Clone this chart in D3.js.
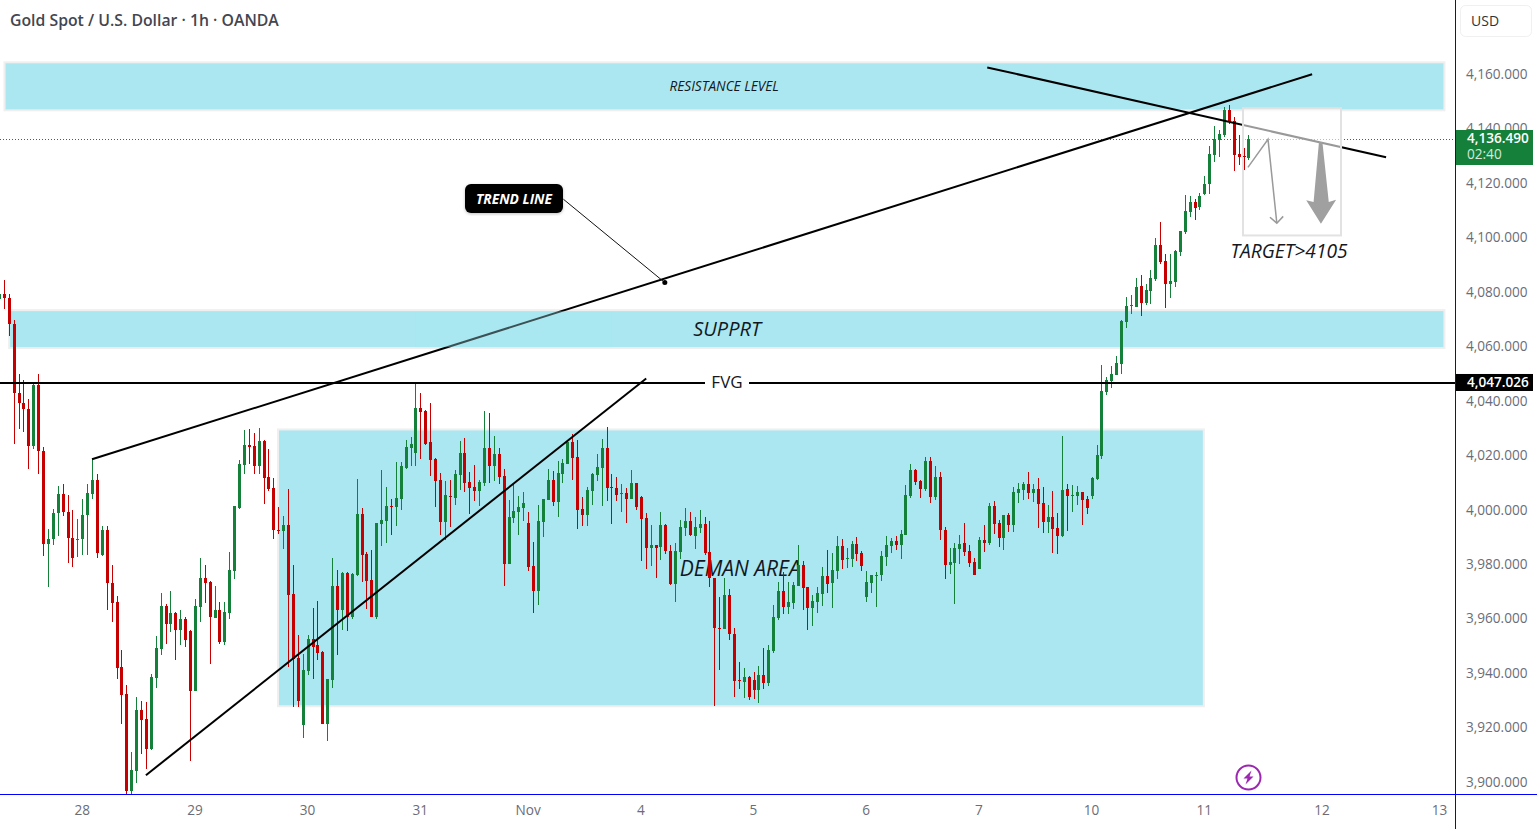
<!DOCTYPE html>
<html>
<head>
<meta charset="utf-8">
<script src="https://cdn.jsdelivr.net/npm/d3@7"></script>
<style>
  html, body { margin: 0; padding: 0; background: #fff; overflow: hidden; }
  svg { display: block; }
  text { font-family: "Open Sans", "Noto Sans", sans-serif; }
</style>
</head>
<body>
<svg id="chart" width="1537" height="829"></svg>
<script>
// XAU/USD hourly candles
const opens = [
4077.8,4079.8,4078.4,4068.8,4043.5,4039.8,4037.6,4023.9,4046.2,4022.2,
3988.0,3989.7,3999.4,4006.4,3999.8,3990.2,3989.8,3989.7,3998.6,4006.3,
4011.3,3983.7,3993.2,3973.7,3966.5,3942.6,3932.7,3897.1,3904.5,3926.8,
3923.5,3912.5,3938.7,3949.2,3965.0,3958.4,3962.4,3956.2,3960.2,3955.8,
3933.8,3964.6,3975.3,3973.8,3960.9,3963.5,3951.8,3962.4,3977.9,4001.3,
4016.8,4024.1,4023.8,4016.4,4025.6,4012.4,4008.4,3993.1,3992.6,3994.8,
3969.4,3945.9,3921.3,3941.2,3952.9,3950.7,3948.1,3921.7,3937.8,3972.4,
3963.5,3977.1,3961.0,3976.4,3998.8,3984.1,3974.6,3961.0,3995.1,3996.2,
4001.7,4001.4,4004.3,4015.7,4023.0,4021.2,4037.7,4036.6,4025.2,4019.0,
4011.3,3995.9,4005.4,4004.7,4013.1,4021.2,4010.5,4008.7,4007.2,4010.2,
4023.0,4016.4,4020.8,4012.7,3980.4,3997.3,3999.5,4001.0,3995.5,3979.7,
3970.5,3995.9,4003.9,4011.3,4003.2,4013.5,4017.2,4025.2,4019.7,4000.6,
3998.4,4007.2,4013.1,4015.7,4023.0,4008.7,4008.3,4006.1,4006.5,4004.3,
4010.2,4005.0,3997.3,3986.3,3987.4,3986.7,3994.7,3985.2,3973.1,3984.8,
3993.6,3996.2,3990.7,3993.6,3995.1,3984.8,3975.6,3956.9,3956.6,3969.0,
3954.7,3937.8,3937.1,3938.9,3937.8,3934.2,3939.7,3936.7,3948.5,3960.6,
3970.5,3964.6,3966.1,3972.3,3980.1,3972.0,3964.3,3966.5,3969.4,3976.0,
3973.4,3977.9,3987.0,3982.3,3982.3,3987.8,3984.5,3968.3,3973.4,3976.0,
3976.4,3983.0,3987.0,3988.9,3987.4,3991.1,4005.4,4014.9,4010.9,4008.0,
4018.2,4005.0,4012.4,3992.9,3980.1,3980.8,3985.9,3988.1,3985.2,3981.2,
3978.9,3989.2,3988.1,4001.7,3995.5,3990.0,3998.4,3994.7,4006.5,4007.6,
4009.8,4006.5,4008.0,4002.8,3995.8,3998.0,3993.6,3990.7,4008.0,4005.4,
4005.4,4006.9,4004.3,4005.4,4011.6,4020.1,4043.7,4047.6,4049.8,4053.9,
4069.3,4075.2,4074.8,4082.5,4076.3,4080.7,4085.1,4097.6,4091.7,4083.3,
4084.0,4095.0,4102.4,4109.7,4113.4,4111.5,4116.3,4120.0,4130.6,4136.1,
4138.0,4147.2,4143.1,4131.0,4130.3,4129.5];
const highs = [
4079.8,4085.0,4079.8,4070.3,4050.5,4048.0,4041.3,4046.5,4050.5,4023.5,
3993.5,4000.6,4009.1,4010.1,4005.8,4000.3,3997.0,4004.6,4009.8,4019.6,
4013.7,3994.6,3994.4,3980.1,3968.7,3948.9,3936.0,3911.4,3931.6,3930.1,
3929.8,3940.3,3954.0,3969.8,3965.7,3970.5,3962.8,3963.5,3961.0,3956.2,
3967.8,3982.6,3980.1,3974.2,3972.4,3966.5,3966.5,3984.8,4001.9,4018.6,
4029.6,4030.0,4028.5,4030.4,4026.0,4022.7,4012.0,4001.4,3998.1,4008.0,
3980.1,3954.4,3947.4,3954.4,3964.3,3966.9,3948.5,3938.2,3982.6,3978.2,
3977.5,3977.5,3977.1,4011.6,4001.0,3985.1,3985.6,3995.5,4015.0,4008.7,
4004.3,4017.9,4017.9,4026.0,4027.1,4046.5,4043.2,4037.0,4039.6,4019.4,
4013.9,4010.9,4011.3,4015.0,4025.6,4026.7,4014.2,4016.8,4011.3,4036.6,
4035.9,4027.4,4023.0,4015.3,4003.9,4009.8,4005.4,4006.9,3999.5,3988.5,
4002.1,4004.3,4015.3,4014.6,4018.3,4019.0,4026.0,4028.2,4026.0,4005.0,
4008.7,4013.8,4020.8,4026.3,4030.7,4013.5,4012.4,4009.8,4008.3,4014.9,
4010.2,4005.4,3999.2,3994.7,3987.4,3999.5,3995.1,3987.4,3988.1,3996.6,
4001.0,3999.5,3997.7,4000.3,3997.7,3996.2,3975.6,3968.3,3975.6,3971.2,
3956.9,3944.4,3942.2,3939.3,3940.8,3943.0,3949.6,3951.0,3965.4,3973.8,
3977.5,3973.8,3973.8,3987.4,3981.5,3972.0,3969.0,3972.0,3979.3,3985.6,
3984.5,3990.7,3989.6,3986.3,3988.9,3990.3,3985.2,3977.9,3976.4,3977.5,
3985.2,3990.7,3990.0,3990.7,3992.9,4009.4,4017.1,4015.3,4011.3,4019.7,
4019.7,4016.4,4014.2,3994.0,3986.3,3988.1,3991.1,3995.5,3987.4,3982.6,
3990.3,3994.7,4002.8,4003.6,3996.6,3998.4,3999.2,4008.7,4010.2,4010.5,
4014.2,4009.8,4012.0,4008.7,4002.1,4007.2,3999.2,4027.4,4009.8,4009.4,
4009.1,4006.9,4005.4,4012.4,4024.1,4053.5,4049.1,4053.2,4056.8,4070.0,
4078.5,4079.2,4085.5,4086.6,4083.3,4088.4,4100.1,4106.0,4094.3,4094.3,
4095.7,4102.7,4115.9,4115.6,4114.5,4116.7,4122.9,4133.9,4141.3,4139.8,
4148.3,4149.0,4144.6,4138.0,4133.2,4138.0];
const lows = [
4068.8,4074.3,4064.3,4024.8,4030.1,4029.0,4015.4,4022.9,4013.7,3983.4,
3972.0,3987.4,3990.8,3998.2,3980.8,3979.3,3983.0,3984.0,3984.0,4004.4,
3982.6,3983.5,3963.6,3959.3,3938.2,3921.7,3896.0,3896.0,3900.2,3910.9,
3905.4,3912.2,3934.9,3947.0,3951.1,3955.5,3945.2,3950.7,3949.9,3908.1,
3933.8,3959.1,3966.1,3943.7,3960.8,3951.1,3950.7,3960.3,3974.9,4000.8,
4013.5,4017.2,4013.5,4013.5,4002.5,4007.2,3989.6,3991.5,3985.9,3942.6,
3928.0,3928.0,3916.5,3939.7,3938.2,3945.2,3921.7,3915.4,3934.9,3947.0,
3956.2,3955.8,3960.3,3976.0,3973.8,3963.9,3961.0,3960.2,3987.0,3988.1,
3991.1,3994.4,4000.3,4015.3,4016.4,4016.4,4019.0,4024.1,4012.7,4001.4,
3991.1,3989.2,3994.0,4002.1,4007.6,4006.9,3998.8,4003.6,4001.7,4009.1,
4010.2,4010.9,4009.8,3972.4,3980.4,3995.5,3991.1,3996.2,3977.9,3962.4,
3965.4,3990.4,4003.9,4001.7,3997.7,4010.2,4017.2,4011.3,3993.3,3994.4,
3994.4,4002.1,4010.9,4001.7,4003.6,3995.1,4003.6,3999.5,3995.5,4004.3,
4000.3,3981.5,3978.6,3979.7,3975.6,3981.9,3984.1,3972.7,3966.5,3982.3,
3990.7,3990.7,3985.9,3991.8,3983.7,3972.0,3928.6,3941.5,3956.6,3952.5,
3931.9,3934.5,3931.2,3930.5,3930.9,3929.4,3934.5,3935.6,3947.7,3959.9,
3962.1,3962.1,3963.9,3972.3,3963.5,3956.2,3957.7,3962.4,3965.0,3969.8,
3964.3,3974.9,3978.6,3979.0,3979.3,3981.5,3977.9,3966.5,3969.8,3964.6,
3974.5,3979.7,3984.5,3985.6,3982.3,3991.1,4004.7,4009.4,4004.7,4007.2,
4002.8,4003.9,3989.2,3974.9,3976.8,3965.7,3980.4,3983.4,3979.3,3976.7,
3978.6,3984.8,3987.4,3991.4,3986.7,3985.6,3992.2,3992.2,4002.8,4003.9,
4004.3,4003.2,3993.6,3991.8,3991.8,3984.5,3984.1,3990.3,3992.5,3999.5,
4002.1,3994.7,3998.8,4004.3,4011.3,4019.0,4042.5,4045.2,4049.8,4050.2,
4067.1,4072.2,4074.8,4071.5,4075.8,4075.9,4084.4,4090.6,4074.4,4078.1,
4082.2,4093.5,4101.6,4107.9,4106.8,4110.4,4115.9,4116.3,4128.1,4129.9,
4137.2,4142.0,4124.8,4127.0,4125.1,4128.8];
const closes = [
4079.8,4078.2,4068.8,4043.4,4039.7,4037.5,4023.9,4046.2,4022.1,3988.0,
3989.9,3999.4,4006.4,3999.7,3990.1,3982.6,3989.9,3998.7,4006.8,4011.3,
3984.5,3992.9,3973.6,3966.2,3942.4,3932.5,3897.1,3904.8,3926.8,3923.2,
3912.5,3938.9,3949.6,3965.0,3958.4,3962.4,3956.2,3960.2,3952.5,3933.8,
3965.0,3975.3,3973.5,3961.0,3963.5,3951.8,3962.8,3978.2,4001.7,4017.2,
4024.1,4023.4,4016.4,4025.6,4012.0,4008.0,3992.9,3992.9,3994.8,3969.1,
3945.6,3930.1,3941.5,3952.9,3949.9,3947.8,3921.7,3938.2,3972.4,3963.5,
3977.1,3961.0,3976.8,3998.8,3983.7,3974.2,3961.0,3995.5,3996.6,4001.7,
4001.4,4004.7,4016.4,4023.4,4024.5,4037.7,4036.2,4024.5,4018.6,4010.9,
3995.9,4005.8,4005.0,4013.5,4021.2,4010.2,4008.3,4007.2,4010.5,4023.0,
4016.4,4020.8,4012.4,3980.4,3997.7,3999.9,4001.4,4002.8,3979.3,3970.5,
3996.2,4004.3,4011.3,4003.2,4013.9,4017.5,4025.2,4019.4,4000.3,3998.4,
4007.6,4013.5,4016.0,4023.0,4008.3,4008.3,4005.8,4006.5,4004.3,4010.2,
4001.4,3996.9,3986.3,3987.4,3986.3,3994.7,3985.2,3973.1,3985.2,3994.0,
3996.2,3991.1,3994.0,3995.1,3984.5,3975.3,3956.9,3956.6,3969.0,3954.7,
3937.5,3937.5,3938.9,3931.6,3934.2,3939.7,3936.7,3948.8,3961.0,3970.5,
3964.6,3966.5,3972.7,3980.1,3971.6,3964.3,3966.8,3969.8,3976.0,3973.1,
3978.2,3987.0,3981.9,3982.6,3987.8,3984.1,3979.7,3973.8,3976.4,3976.7,
3983.4,3987.4,3988.9,3987.4,3991.4,4005.8,4014.9,4010.5,4008.0,4018.2,
4005.0,4012.4,3992.9,3980.1,3981.2,3986.3,3987.8,3984.8,3980.8,3976.7,
3989.2,3988.1,4001.7,3995.1,3990.0,3998.4,3994.7,4006.9,4008.0,4009.8,
4006.5,4008.0,4002.5,3995.8,3997.7,3993.3,3990.7,4007.6,4005.4,4005.8,
4006.9,4003.9,4001.0,4012.0,4020.4,4044.0,4048.0,4050.2,4054.3,4069.7,
4075.2,4075.5,4082.2,4076.3,4081.1,4085.5,4097.6,4091.3,4083.3,4084.4,
4095.4,4102.7,4110.1,4113.4,4111.2,4115.6,4120.0,4131.0,4136.5,4138.4,
4147.2,4142.7,4130.6,4129.9,4129.9,4136.5];

// Axis ticks: bar index of each session start, plus its label
const dayBars   = [17, 40, 63, 86, 108, 131, 154, 177, 200, 223, 246, 270, 294];
const dayLabels = ["28", "29", "30", "31", "Nov", "4", "5", "6", "7", "10", "11", "12", "13"];
const priceTicks = [3900, 3920, 3940, 3960, 3980, 4000, 4020, 4040, 4060, 4080, 4100, 4120, 4140, 4160];

// Reference levels
const lastPrice = 4136.490;
const fvgPrice  = 4047.026;

// Drawn zones: [fromBar, toBar, topPrice, bottomPrice]
const resistanceZone = [1.25, 294.7, 4164.4, 4147.5];
const supportZone    = [2.2, 294.7, 4073.4, 4060.2];
const demandZone     = [57.06, 245.6, 4029.6, 3928.7];
const targetBox      = [253.8, 273.8, 4147.9, 4101.2];
// Stretch of the support band that veils the rising line
const supportVeilBars = [85, 125];

// Drawn lines as [bar, price] vertices
const wedgeUpper   = [[18.9, 4019.0], [267.9, 4160.4]];
const wedgeLower   = [[29.9, 3903.0], [132, 4048.7]];
const fallingLine  = [[201.6, 4162.9], [283, 4129.9]];
const calloutLine  = [[115.1, 4114.5], [135.8, 4083.9]];
const pathArrow    = [[254.8, 4126.2], [258.9, 4136.5], [260.7, 4105.7]];
const pathArrowTip = [[259.3, 4107.9], [260.7, 4105.7], [262, 4108.2]];
const bigArrow     = [[269.3, 4135.5], [270, 4135.5], [271.3, 4113.5], [272.8, 4114.3], [269.7, 4105.5], [266.7, 4114.1], [268.2, 4113.5]];

const GREEN = "#15803a", RED = "#c60000", FILL = "#aae7f1", EDGE = "#efefef", BLUE = "#0000ff";

const x = d3.scaleLinear().domain([0, 300]).range([-0.6, 1469.4]);
const y = d3.scaleLinear().domain([3900, 4160]).range([783.4, 75.3]);
const line = d3.line().x(d => x(d[0])).y(d => y(d[1]));

const svg = d3.select("#chart");

// Zones sit under the candles
function zone(r) {
  svg.append("rect")
    .attr("x", x(r[0]) - 1).attr("y", y(r[2]) - 1)
    .attr("width", x(r[1]) - x(r[0]) + 2).attr("height", y(r[3]) - y(r[2]) + 2)
    .attr("fill", FILL).attr("stroke", EDGE).attr("stroke-width", 2);
}
[resistanceZone, supportZone, demandZone].forEach(zone);

// Text labels on the zones, also under the candles
function label(t, bar, price, size) {
  return svg.append("text").text(t)
    .attr("x", x(bar)).attr("y", y(price))
    .attr("text-anchor", "middle").attr("dominant-baseline", "central")
    .attr("font-size", size).attr("font-style", "italic").attr("font-weight", 500).attr("fill", "#131722");
}
label("RESISTANCE LEVEL", 147.9, 4156.2, 13.6);
label("SUPPRT", 148.5, 4067.0, 20);
label("DEMAN AREA", 151.2, 3979.2, 21);
label("TARGET>4105", 263.2, 4095.8, 19.2);

// Price line for the last trade
svg.append("line")
  .attr("x1", 0).attr("x2", 1455)
  .attr("y1", Math.round(y(lastPrice)) + 0.5).attr("y2", Math.round(y(lastPrice)) + 0.5)
  .attr("stroke", GREEN).attr("stroke-width", 1).attr("stroke-dasharray", "1 2");

// Candles
const bars = d3.range(opens.length).map(i => ({ i, o: opens[i], h: highs[i], l: lows[i], c: closes[i] }));
function drawCandles(data) {
  const g = svg.append("g");
  const colour = d => d.c >= d.o ? GREEN : RED;
  g.selectAll(".wick").data(data).join("rect")
    .attr("x", d => Math.floor(x(d.i)))
    .attr("width", 1)
    .attr("y", d => Math.round(y(d.h)))
    .attr("height", d => Math.max(1, Math.round(y(d.l)) - Math.round(y(d.h))))
    .attr("fill", colour);
  g.selectAll(".body").data(data).join("rect")
    .attr("x", d => Math.floor(x(d.i)) - 1)
    .attr("width", 3)
    .attr("y", d => Math.round(y(Math.max(d.o, d.c))))
    .attr("height", d => Math.max(1, Math.round(y(Math.min(d.o, d.c))) - Math.round(y(Math.max(d.o, d.c)))))
    .attr("fill", colour);
}
drawCandles(bars);

// Trend lines and the FVG level run over the candles
function stroke(pts, w, colour) {
  return svg.append("path").attr("d", line(pts)).attr("fill", "none")
    .attr("stroke", colour || "#000").attr("stroke-width", w);
}
stroke(wedgeUpper, 2);
stroke(wedgeLower, 2);
stroke(fallingLine, 2);
stroke(calloutLine, 1, "#111");
svg.append("circle").attr("cx", x(calloutLine[1][0])).attr("cy", y(calloutLine[1][1])).attr("r", 2.5).attr("fill", "#000");

// The support band lies over the rising line and tints it
svg.append("rect")
  .attr("x", x(supportVeilBars[0])).attr("width", x(supportVeilBars[1]) - x(supportVeilBars[0]))
  .attr("y", y(supportZone[2])).attr("height", y(supportZone[3]) - y(supportZone[2]))
  .attr("fill", FILL).attr("fill-opacity", 0.35);

svg.append("rect").attr("x", 0).attr("width", 1455)
  .attr("y", Math.round(y(fvgPrice)) - 1).attr("height", 2).attr("fill", "#000");
svg.append("rect").attr("x", 705).attr("width", 44)
  .attr("y", y(fvgPrice) - 3).attr("height", 6).attr("fill", "#fff");
svg.append("text").text("FVG")
  .attr("x", 727).attr("y", y(fvgPrice) - 1)
  .attr("text-anchor", "middle").attr("dominant-baseline", "central")
  .attr("font-size", 17).attr("fill", "#131722");

// Target box washes out what lies behind it
svg.append("rect")
  .attr("x", x(targetBox[0])).attr("y", y(targetBox[2]))
  .attr("width", x(targetBox[1]) - x(targetBox[0])).attr("height", y(targetBox[3]) - y(targetBox[2]))
  .attr("fill", "#fff").attr("fill-opacity", 0.6)
  .attr("stroke", "#e2e2e2").attr("stroke-width", 2);
drawCandles(bars.filter(d => d.i >= 253));

stroke(pathArrow, 1.5, "#9a9a9a").attr("stroke-linejoin", "miter");
stroke(pathArrowTip, 1.5, "#9a9a9a");
svg.append("path").attr("d", line(bigArrow) + "Z").attr("fill", "#a0a0a0");

// Callout tag
const tagShadow = svg.append("defs").append("filter").attr("id", "tagShadow");
tagShadow.append("feDropShadow").attr("dx", 0).attr("dy", 1).attr("stdDeviation", 1.5)
  .attr("flood-color", "#000").attr("flood-opacity", 0.25);
svg.append("rect").attr("x", 465).attr("y", 184).attr("width", 98).attr("height", 29).attr("rx", 6)
  .attr("fill", "#000").attr("filter", "url(#tagShadow)");
svg.append("text").text("TREND LINE").attr("x", 514).attr("y", 198)
  .attr("text-anchor", "middle").attr("dominant-baseline", "central")
  .attr("font-size", 13.8).attr("font-weight", 700).attr("font-style", "italic").attr("fill", "#fff");

// Chart frame
svg.append("rect").attr("x", 0).attr("y", 794).attr("width", 1537).attr("height", 1).attr("fill", BLUE);
svg.append("rect").attr("x", 1455).attr("y", 0).attr("width", 1).attr("height", 829).attr("fill", BLUE);

// Axes
const priceAxis = d3.axisRight(y).tickValues(priceTicks).tickSize(0).tickPadding(0)
  .tickFormat(d => d3.format(",.3f")(d));
const gy = svg.append("g").attr("transform", "translate(1466,-1.4)").call(priceAxis);
const timeAxis = d3.axisBottom(x).tickValues(dayBars).tickSize(0).tickPadding(0)
  .tickFormat(d => dayLabels[dayBars.indexOf(d)]);
const gx = svg.append("g").attr("transform", "translate(-1,805.5)").call(timeAxis);
[gy, gx].forEach(g => {
  g.select(".domain").remove();
  g.selectAll("text").attr("font-size", 13.6).attr("fill", "#6a6d78").attr("font-family", '"Open Sans", sans-serif');
});

// Level tags on the price scale
svg.append("rect").attr("x", 1456).attr("y", 130).attr("width", 77).attr("height", 35).attr("fill", GREEN);
svg.append("text").text(d3.format(",.3f")(lastPrice)).attr("x", 1467).attr("y", 143)
  .attr("font-size", 13.6).attr("font-weight", 600).attr("fill", "#fff");
svg.append("text").text("02:40").attr("x", 1467).attr("y", 159)
  .attr("font-size", 13.6).attr("fill", "#d5e8da");
svg.append("rect").attr("x", 1456).attr("y", y(fvgPrice) - 9).attr("width", 77).attr("height", 17).attr("fill", "#000");
svg.append("text").text(d3.format(",.3f")(fvgPrice)).attr("x", 1467).attr("y", y(fvgPrice) + 4)
  .attr("font-size", 13.6).attr("font-weight", 600).attr("fill", "#fff");

// Currency button
svg.append("rect").attr("x", 1460.5).attr("y", 5.5).attr("width", 71).attr("height", 31).attr("rx", 5)
  .attr("fill", "#fff").attr("stroke", "#f0f0f0");
svg.append("text").text("USD").attr("x", 1471).attr("y", 25.5).attr("font-size", 14).attr("fill", "#333");

// Symbol title
svg.append("text").text("Gold Spot / U.S. Dollar · 1h · OANDA").attr("x", 10).attr("y", 25.5)
  .attr("font-size", 15.8).attr("font-weight", 600).attr("fill", "#434651");

// Dividends-style event marker
const marker = svg.append("g").attr("transform", "translate(1248.5,777.5)");
marker.append("circle").attr("r", 12).attr("fill", "#fff").attr("stroke", "#9c27b0").attr("stroke-width", 2);
marker.append("path").attr("d", "M3,-7 L-5,1 L-1,1 L-3,7 L5,-1 L1,-1 Z").attr("fill", "#9c27b0");
</script>
</body>
</html>
